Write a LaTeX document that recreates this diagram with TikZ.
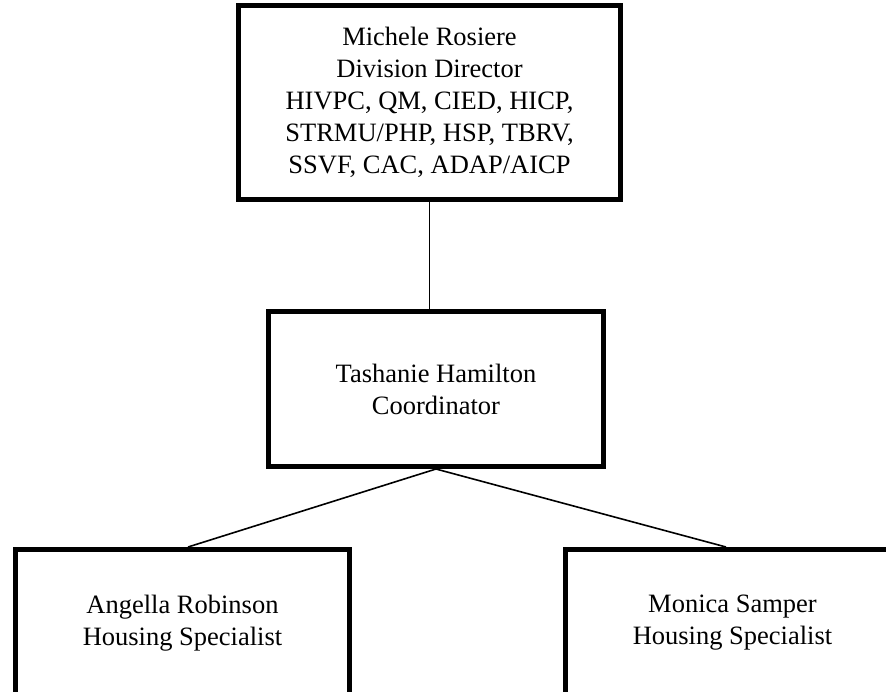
\documentclass[tikz,border=0pt]{standalone}
\usepackage{fontspec}
\setmainfont{Liberation Serif}
\begin{document}
\begin{tikzpicture}[x=1pt,y=-1pt,
  orgbox/.style={draw=black, line width=5pt, rectangle, inner sep=0pt, align=center,
    font=\fontsize{26.5}{32}\selectfont, fill=white},
  link/.style={draw=black, line width=1.6pt}]
\useasboundingbox (0,0) rectangle (886,691);
\clip (0,0) rectangle (886,691);
\fill[white] (0,0) rectangle (886,691);
\node[orgbox, minimum width=382pt, minimum height=194pt] (dir) at (429.5,102.5)
  {Michele Rosiere\\Division Director\\HIVPC, QM, CIED, HICP,\\STRMU/PHP, HSP, TBRV,\\SSVF, CAC, ADAP/AICP};
\node[orgbox, minimum width=335pt, minimum height=155pt] (coord) at (436,389)
  {Tashanie Hamilton\\Coordinator};
\node[orgbox, minimum width=334pt, minimum height=147pt] (ar) at (182.5,623)
  {Angella Robinson\\Housing Specialist};
\node[orgbox, minimum width=334pt, minimum height=147pt] (ms) at (732.5,623)
  {Monica Samper\\Housing Specialist};
\draw[link] (dir.south) -- (dir.south |- coord.north);
\draw[link] (coord.south) -- ([xshift=5.5pt]ar.north);
\draw[link] (coord.south) -- ([xshift=-6.5pt]ms.north);
\end{tikzpicture}
\end{document}
